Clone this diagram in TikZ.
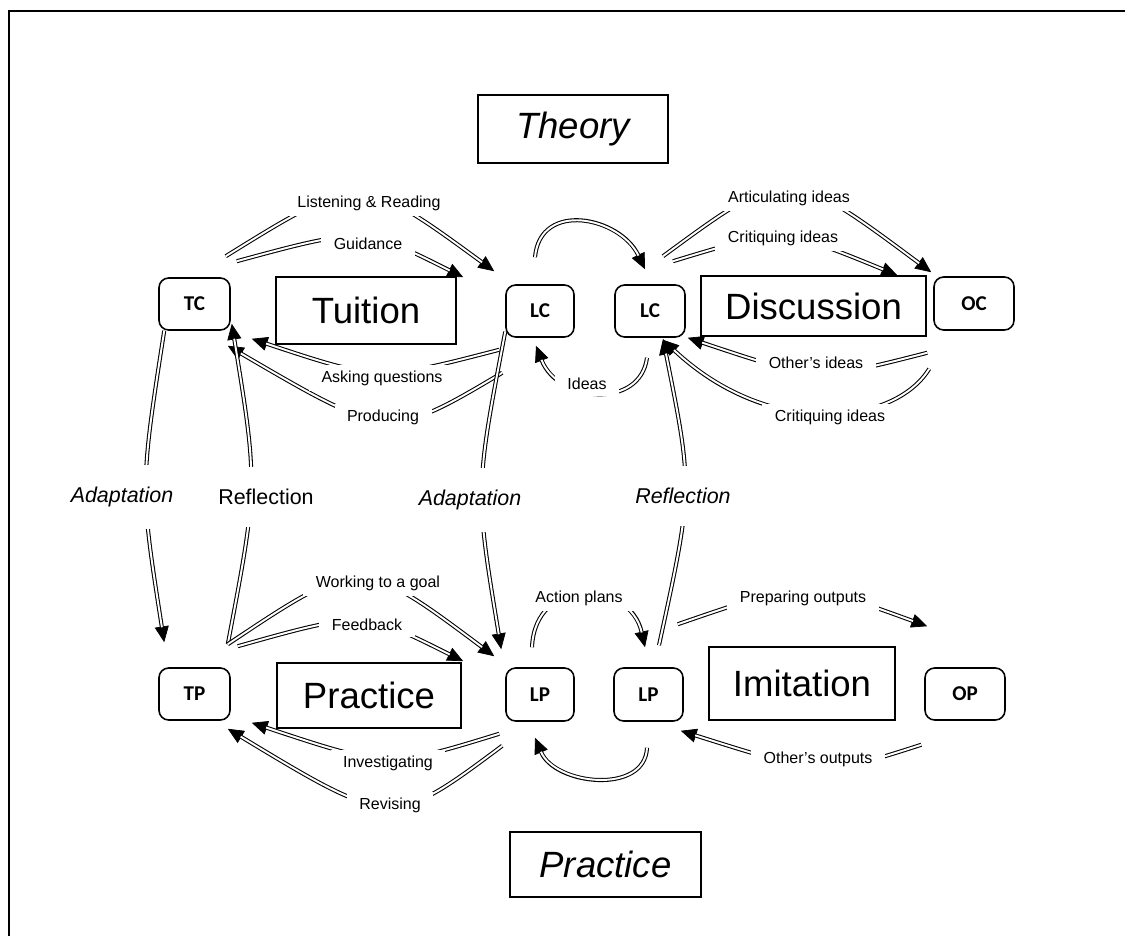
\documentclass[tikz,border=0pt]{standalone}
\usepackage{fontspec}
\setmainfont{Liberation Sans}
\newfontfamily\carlito{Carlito}
\usetikzlibrary{arrows.meta}
\begin{document}
\begin{tikzpicture}[x=0.02cm, y=-0.02cm,
  actor/.style={draw, line width=0.9pt, rounded corners=5.5pt, inner sep=0pt,
    font=\carlito\bfseries\fontsize{12}{14}\selectfont},
  modebox/.style={draw, line width=0.75pt, inner sep=0pt,
    font=\fontsize{20.8}{25}\selectfont},
  lbl/.style={fill=white, inner xsep=0.25cm, inner ysep=0.12cm,
    font=\fontsize{9.1}{11}\selectfont},
  vlbl/.style={fill=white, inner xsep=1pt, inner ysep=0.45cm,
    font=\fontsize{12.2}{15}\selectfont},
  % hollow twin-line connector with a solid head
  link/.style={line width=2.3pt,
    -{Triangle[length=9pt,width=8pt,line width=0.4pt]},
    postaction={draw=white, line width=1.1pt, -, shorten >=8.6pt}}]

\useasboundingbox (0,0) rectangle (1125,936);
% page frame
\draw[line width=1.2pt] (9,936) -- (9,11) -- (1125,11);

% headings
\node[modebox, minimum width=3.8cm, minimum height=1.36cm] (theory) at (573,129) {\itshape Theory};
\node[modebox, minimum width=3.82cm, minimum height=1.3cm] (practice) at (605.5,864.5) {\itshape Practice};

% modes of learning
\node[modebox, minimum width=3.6cm, minimum height=1.34cm] (tuition) at (366,310.5) {Tuition};
\node[modebox, minimum width=4.5cm, minimum height=1.2cm] (discussion) at (813.5,306) {Discussion};
\node[modebox, minimum width=3.68cm, minimum height=1.3cm] (practicebox) at (369,695.5) {Practice};
\node[modebox, minimum width=3.72cm, minimum height=1.46cm] (imitation) at (802,683.5) {Imitation};

% actors
\node[actor, minimum width=1.42cm, minimum height=1.04cm] (TC) at (194.5,304) {TC};
\node[actor, minimum width=1.36cm, minimum height=1.04cm] (lcA) at (540,311) {LC};
\node[actor, minimum width=1.40cm, minimum height=1.04cm] (lcB) at (650,311) {LC};
\node[actor, minimum width=1.60cm, minimum height=1.06cm] (OC) at (974,303.5) {OC};
\node[actor, minimum width=1.42cm, minimum height=1.04cm] (TP) at (194.5,694) {TP};
\node[actor, minimum width=1.36cm, minimum height=1.06cm] (lpA) at (540,694.5) {LP};
\node[actor, minimum width=1.38cm, minimum height=1.06cm] (lpB) at (648.5,694.5) {LP};
\node[actor, minimum width=1.60cm, minimum height=1.04cm] (OP) at (965,694) {OP};

% tuition links
\draw[link] ([shift={(-5,-21)}]TC.north east) .. controls (360,173) .. ([shift={(-11,-13)}]lcA.north west);
\draw[link] ([shift={(6,-16)}]TC.north east) .. controls (363,227) .. ([shift={(-42,-7)}]lcA.north west);
\draw[link] ([shift={(-6,12)}]lcA.south west) .. controls (379,381) .. ([shift={(21,8)}]TC.south east);
\draw[link] ([shift={(-3,35)}]lcA.south west) .. controls (389,440) .. ([shift={(-3,15)}]TC.south east);

% theory / practice links
\draw[link] ([shift={(6,0)}]TC.south west) .. controls (140,487) .. ([shift={(6,-25)}]TP.north west);
\draw[link] ([shift={(-3,-23)}]TP.north east) .. controls (258,485) .. ([shift={(1,-7)}]TC.south east);
\draw[link] ([shift={(0,-6)}]lcA.south west) .. controls (475,490) .. ([shift={(-4,-18)}]lpA.north west);
\draw[link] ([shift={(10.5,-22)}]lpB.north) .. controls (693,489) .. ([shift={(13,1)}]lcB.south);

% practice links
\draw[link] ([shift={(-3,-23)}]TP.north east) .. controls (360,556) .. ([shift={(-11,-11)}]lpA.north west);
\draw[link] ([shift={(7,-21)}]TP.north east) .. controls (363,611) .. ([shift={(-42,-6)}]lpA.north west);
\draw[link] ([shift={(-6,12)}]lpA.south west) .. controls (388,768) .. ([shift={(21,2)}]TP.south east);
\draw[link] ([shift={(-3,24)}]lpA.south west) .. controls (392,828) .. ([shift={(-3,8)}]TP.south east);

% learner to learner
\draw[link] ([shift={(-5,-27)}]lcA.north) .. controls (540,200) and (620,217) .. ([shift={(-5,-15)}]lcB.north);
\draw[link] ([shift={(-3,20)}]lcB.south) .. controls (640,410) and (558,402) .. ([shift={(-4,8)}]lcA.south);
\draw[link] ([shift={(-8,-20)}]lpA.north) .. controls (535,575) and (630,580) .. ([shift={(-3.5,-20)}]lpB.north);
\draw[link] ([shift={(-1.5,26)}]lpB.south) .. controls (645,795) and (555,785) .. ([shift={(-5,16)}]lpA.south);

% discussion links
\draw[link] ([shift={(13,-28)}]lcB.north) .. controls (787,165) .. ([shift={(-2,-4)}]OC.north west);
\draw[link] ([shift={(23,-23)}]lcB.north) .. controls (782,228) .. ([shift={(-36,-1)}]OC.north west);
\draw[link] ([shift={(-6,22)}]OC.south west) .. controls (817,381) .. ([shift={(2,0)}]lcB.south east);
\draw[link] ([shift={(-4,38)}]OC.south west) .. controls (895,425) and (770,440) .. ([shift={(13,2)}]lcB.south);

% imitation links
\draw[link] ([shift={(-6,-43)}]lpB.north east) .. controls (803,581) .. ([shift={(3,-41)}]OP.north west);
\draw[link] ([shift={(-3,24)}]OP.south west) .. controls (824,776) .. ([shift={(-3,9)}]lpB.south east);

% link labels
\node[lbl] (lLR) at (369,203) {Listening \& Reading};
\node[lbl] (lGu) at (368,244) {Guidance};
\node[lbl] (lAQ) at (382,378) {Asking questions};
\node[lbl] (lPr) at (383,417) {Producing};
\node[lbl] (lAI) at (789,198) {Articulating ideas};
\node[lbl] (lCI) at (783,238) {Critiquing ideas};
\node[lbl] (lOI) at (816,363) {Other’s ideas};
\node[lbl] (lCL) at (830,417) {Critiquing ideas};
\node[lbl] (lId) at (587,384) {Ideas};
\node[lbl] (lWG) at (378,583) {Working to a goal};
\node[lbl] (lFb) at (367,625) {Feedback};
\node[lbl] (lIn) at (388,763) {Investigating};
\node[lbl] (lRv) at (390,805) {Revising};
\node[lbl] (lAP) at (579,598) {Action plans};
\node[lbl] (lPO) at (803,598) {Preparing outputs};
\node[lbl] (lOO) at (818,759) {Other’s outputs};

\node[vlbl] (vAdL) at (122,497) {\itshape Adaptation};
\node[vlbl] (vReL) at (266,497) {Reflection};
\node[vlbl] (vAdM) at (470,500) {\itshape Adaptation};
\node[vlbl] (vReR) at (683,496) {\itshape Reflection};
\end{tikzpicture}
\end{document}
